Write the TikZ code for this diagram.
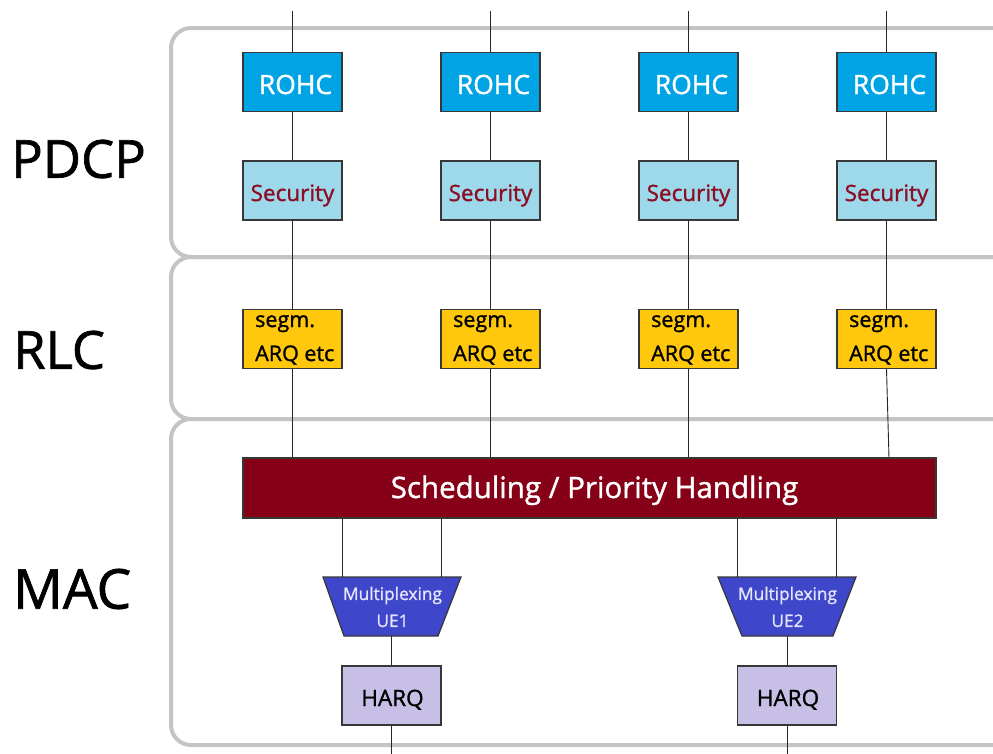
\documentclass[tikz,border=0pt]{standalone}
\usepackage{fontspec}
\setmainfont{Open Sans}[FakeBold=1.3]
\definecolor{panelgray}{RGB}{196,196,196}
\definecolor{boxedge}{RGB}{55,55,55}
\definecolor{rohcblue}{RGB}{0,163,228}
\definecolor{secblue}{RGB}{157,217,234}
\definecolor{secred}{RGB}{140,14,36}
\definecolor{rlcyellow}{RGB}{255,200,12}
\definecolor{schedred}{RGB}{134,0,24}
\definecolor{muxblue}{RGB}{62,70,202}
\definecolor{muxtext}{RGB}{228,228,252}
\definecolor{harqlilac}{RGB}{200,191,230}
\begin{document}
\begin{tikzpicture}[x=1pt,y=-1pt,
  panel/.style={draw=panelgray, line width=4pt, rounded corners=20pt},
  layerlabel/.style={anchor=west, inner sep=0pt},
  box/.style={draw=boxedge, line width=1.2pt, minimum width=99pt, minimum height=59pt, inner sep=0pt},
  rohcbox/.style={box, fill=rohcblue, text=white, text height=24pt, text depth=0pt, font=\fontsize{26.5}{30}\selectfont},
  secbox/.style={box, fill=secblue, text=secred, text height=21pt, text depth=0pt, font=\fontsize{22.5}{26}\selectfont},
  rlcbox/.style={box, fill=rlcyellow},
  rlctext/.style={anchor=base west, inner sep=0pt, text=black, font=\fontsize{21.5}{26}\selectfont},
  harqbox/.style={box, fill=harqlilac, text=black, text height=21pt, text depth=0pt, font=\fontsize{22.5}{28}\selectfont},
  schedbar/.style={draw=boxedge, line width=1.2pt, fill=schedred, text=white, minimum width=693pt, minimum height=60pt, inner sep=0pt, text height=20pt, text depth=0pt, font=\fontsize{29.5}{34}\selectfont},
  muxshape/.style={draw=boxedge, line width=1.2pt, fill=muxblue},
  muxlabel/.style={inner sep=0pt, text=muxtext, align=center, font=\fontsize{17.3}{27}\selectfont},
  conn/.style={draw=black!85, line width=0.9pt}
]
\useasboundingbox (0,0) rectangle (993,753);
\clip (0,0) rectangle (993,753);

% panels
\draw[panel] (171,28) rectangle (1015,257);
\draw[panel] (171,257) rectangle (1015,419);
\draw[panel] (171,419) rectangle (1015,745);

% layer labels
\node[layerlabel, font=\fontsize{52.5}{60}\selectfont] (lpdcp) at (11,159) {PDCP};
\node[layerlabel, font=\fontsize{52.5}{60}\selectfont] (lrlc) at (13,350) {RLC};
\node[layerlabel, font=\fontsize{55}{60}\selectfont] (lmac) at (13,589) {MAC};

% columns
\foreach \i/\x in {1/292.5,2/490.5,3/688.5,4/886.5}{
  \coordinate (top\i) at (\x,11);
  \node[rohcbox] (r\i) at (\x,82) {\hspace{6pt}ROHC};
  \node[secbox] (s\i) at (\x,190.5) {Security};
  \node[rlcbox] (g\i) at (\x,339) {};
  \node[rlctext] (gs\i) at (\x-37.5,327) {segm.};
  \node[rlctext] (ga\i) at (\x-37.5,361) {ARQ etc};
}

% scheduling bar
\node[schedbar] (bar) at (589.5,488) {\hspace{10pt}Scheduling / Priority Handling};

\foreach \i in {1,2,3,4}{
  \draw[conn] (top\i) -- (r\i);
  \draw[conn] (r\i) -- (s\i);
  \draw[conn] (s\i) -- (g\i);
}
\foreach \i in {1,2,3}{
  \draw[conn] (g\i.south) -- (g\i.south |- bar.north);
}
\coordinate (b4) at (889,458);
\draw[conn] (g4.south) -- (b4);

% multiplexing UE1
\coordinate (m1a) at (323,577);
\coordinate (m1b) at (461,577);
\coordinate (m1c) at (438,636);
\coordinate (m1d) at (344,636);
\filldraw[muxshape] (m1a) -- (m1b) -- (m1c) -- (m1d) -- cycle;
\node[muxlabel] (mux1) at (392.5,607) {Multiplexing\\UE1};
\coordinate (m1p) at (342,577);
\coordinate (m1q) at (441,577);
\coordinate (m1s) at (391.5,636);

% multiplexing UE2
\coordinate (m2a) at (718,577);
\coordinate (m2b) at (856,577);
\coordinate (m2c) at (833,636);
\coordinate (m2d) at (742,636);
\filldraw[muxshape] (m2a) -- (m2b) -- (m2c) -- (m2d) -- cycle;
\node[muxlabel] (mux2) at (787.5,607) {Multiplexing\\UE2};
\coordinate (m2p) at (737.5,577);
\coordinate (m2q) at (836.5,577);
\coordinate (m2s) at (787,636);

% HARQ
\node[harqbox] (h1) at (391.5,695.5) {\hspace{2pt}HARQ};
\node[harqbox] (h2) at (787,695.5) {\hspace{2pt}HARQ};
\coordinate (e1) at (391.5,760);
\coordinate (e2) at (787,760);

\draw[conn] (bar.south -| m1p) -- (m1p);
\draw[conn] (bar.south -| m1q) -- (m1q);
\draw[conn] (bar.south -| m2p) -- (m2p);
\draw[conn] (bar.south -| m2q) -- (m2q);
\draw[conn] (m1s) -- (h1);
\draw[conn] (m2s) -- (h2);
\draw[conn] (h1) -- (e1);
\draw[conn] (h2) -- (e2);
\end{tikzpicture}
\end{document}
